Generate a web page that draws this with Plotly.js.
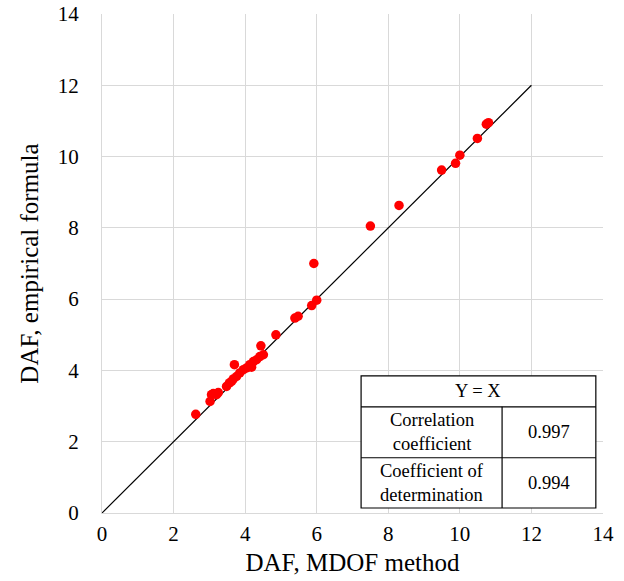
<!DOCTYPE html>
<html>
<head>
<meta charset="utf-8">
<script src="https://cdn.plot.ly/plotly-3.0.1.min.js"></script>
<style>body{margin:0;background:#fff;}#chart{width:624px;height:581px;}</style>
</head>
<body>
<div id="chart"></div>
<script>
// DAF values: MDOF method (x) vs empirical formula (y)
const dafMDOF = [2.62, 3.02, 3.06, 3.11, 3.20, 3.25, 3.48, 3.56, 3.62, 3.67, 3.70, 3.76, 3.85, 3.95, 4.04, 4.13, 4.18, 4.23, 4.32, 4.41, 4.51, 4.44, 4.86,
                 5.39, 5.48, 5.86, 6.00, 5.92, 7.50, 8.30, 9.49, 9.88, 10.00, 10.49, 10.74, 10.80];
const dafEmp  = [2.77, 3.13, 3.32, 3.35, 3.32, 3.38, 3.55, 3.65, 3.69, 3.76, 4.16, 3.83, 3.93, 4.02, 4.07, 4.16, 4.09, 4.25, 4.30, 4.39, 4.44, 4.69, 5.00,
                 5.47, 5.52, 5.82, 5.97, 7.00, 8.05, 8.63, 9.62, 9.81, 10.04, 10.51, 10.91, 10.95];
const lineX = [0, 12];
const lineY = [0, 12];
const tickVals = [0, 2, 4, 6, 8, 10, 12, 14];
const tableHeader = "Y = X";
const tableLabels = ["Correlation<br>coefficient", "Coefficient of<br>determination"];
const tableValues = ["0.997", "0.994"];

const font = "Liberation Serif, Times New Roman, serif";

const traces = [
  {x: lineX, y: lineY, mode: "lines", type: "scatter", line: {color: "#000", width: 1.2}, hoverinfo: "skip"},
  {x: dafMDOF, y: dafEmp, mode: "markers", type: "scatter", marker: {color: "#ff0000", size: 9.5}}
];

// table geometry (data coordinates)
const tL = 7.24, tR = 13.80, tD = 11.18, tTop = 3.85, r1 = 2.98, r2 = 1.55, tBot = 0.14;
const ln = {color: "#000", width: 1.2};
const shapes = [
  {type: "rect", xref: "x", yref: "y", x0: tL, x1: tR, y0: tBot, y1: tTop, fillcolor: "#fff", line: ln, layer: "above"},
  {type: "line", xref: "x", yref: "y", x0: tL, x1: tR, y0: r1, y1: r1, line: ln, layer: "above"},
  {type: "line", xref: "x", yref: "y", x0: tL, x1: tR, y0: r2, y1: r2, line: ln, layer: "above"},
  {type: "line", xref: "x", yref: "y", x0: tD, x1: tD, y0: tBot, y1: r1, line: ln, layer: "above"}
];
const tf = {family: font, size: 18.5, color: "#000"};
const annotations = [
  {x: (tL + tR) / 2, y: (tTop + r1) / 2, xref: "x", yref: "y", text: tableHeader, showarrow: false, font: tf},
  {x: (tL + tD) / 2, y: (r1 + r2) / 2, xref: "x", yref: "y", text: tableLabels[0], showarrow: false, font: tf},
  {x: (tD + tR) / 2, y: (r1 + r2) / 2, xref: "x", yref: "y", text: tableValues[0], showarrow: false, font: tf},
  {x: (tL + tD) / 2, y: (r2 + tBot) / 2, xref: "x", yref: "y", text: tableLabels[1], showarrow: false, font: tf},
  {x: (tD + tR) / 2, y: (r2 + tBot) / 2, xref: "x", yref: "y", text: tableValues[1], showarrow: false, font: tf}
];

const layout = {
  width: 624, height: 581,
  margin: {l: 102, r: 21, t: 14, b: 68},
  paper_bgcolor: "#fff", plot_bgcolor: "#fff",
  showlegend: false,
  font: {family: font, color: "#000"},
  xaxis: {
    range: [0, 14], tickvals: tickVals, showgrid: true, gridcolor: "#d9d9d9", gridwidth: 1,
    zeroline: false, showline: true, linecolor: "#d9d9d9", ticks: "",
    tickfont: {family: font, size: 21, color: "#000"}, ticklabelstandoff: 2,
    title: {text: "DAF, MDOF method", font: {family: font, size: 25, color: "#000"}, standoff: 8}
  },
  yaxis: {
    range: [0, 14], tickvals: tickVals, showgrid: true, gridcolor: "#d9d9d9", gridwidth: 1,
    zeroline: false, showline: true, linecolor: "#d9d9d9", ticks: "",
    tickfont: {family: font, size: 21, color: "#000"}, ticklabelstandoff: 18,
    title: {text: "DAF, empirical formula", font: {family: font, size: 25, color: "#000"}, standoff: 12}
  },
  shapes: shapes,
  annotations: annotations
};

Plotly.newPlot("chart", traces, layout, {displayModeBar: false, staticPlot: true});
</script>
</body>
</html>
